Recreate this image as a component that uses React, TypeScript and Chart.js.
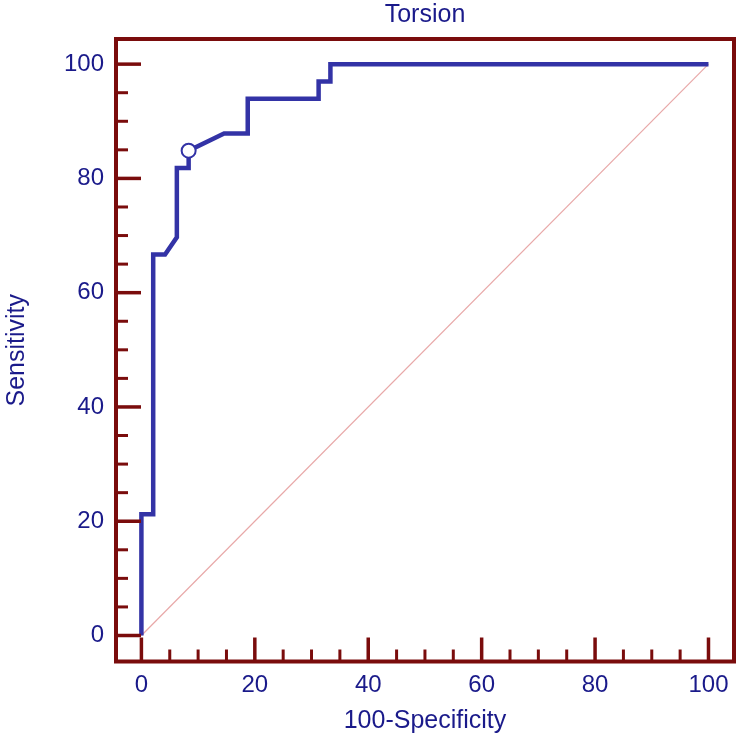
import React, { useEffect, useRef } from "react";
import { Chart, registerables } from "chart.js";

Chart.register(...registerables);

// ROC curve (100-Specificity vs Sensitivity)
const fpr = [0, 0, 2.08, 2.08, 4.17, 6.25, 6.25, 8.33, 8.33, 14.58, 18.75, 18.75, 31.25, 31.25, 33.33, 33.33, 100];
const tpr = [0, 21.21, 21.21, 66.67, 66.67, 69.7, 81.82, 81.82, 84.85, 87.88, 87.88, 93.94, 93.94, 96.97, 96.97, 100, 100];

// Reference diagonal
const refX = [0, 100];
const refY = [0, 100];

// Optimal criterion point
const critX = [8.33];
const critY = [84.85];

// Tick values
const xMajorTicks = [0, 20, 40, 60, 80, 100];
const xMinorTicks = [5, 10, 15, 25, 30, 35, 45, 50, 55, 65, 70, 75, 85, 90, 95];
const yMajorTicks = [0, 20, 40, 60, 80, 100];
const yMinorTicks = [5, 10, 15, 25, 30, 35, 45, 50, 55, 65, 70, 75, 85, 90, 95];

const chartTitle = "Torsion";
const xTitle = "100-Specificity";
const yTitle = "Sensitivity";

const FONT = '"Liberation Sans", Arial, Helvetica, sans-serif';
const TEXT = "#1a1a8a";
const FRAME = "#7a0c0c";
const CURVE = "#3333a6";
const DIAG = "#e8a8a8";

const framePlugin = {
  id: "frameTicks",
  afterDraw(chart: any) {
    const { ctx, chartArea: a, scales } = chart;
    const x = scales.x;
    const y = scales.y;
    ctx.save();
    ctx.strokeStyle = FRAME;
    ctx.lineCap = "butt";
    const drawX = (vals: number[], len: number, w: number) => {
      ctx.lineWidth = w;
      for (const v of vals) {
        const px = x.getPixelForValue(v);
        ctx.beginPath();
        ctx.moveTo(px, a.bottom);
        ctx.lineTo(px, a.bottom - len);
        ctx.stroke();
      }
    };
    const drawY = (vals: number[], len: number, w: number) => {
      ctx.lineWidth = w;
      for (const v of vals) {
        const py = y.getPixelForValue(v);
        ctx.beginPath();
        ctx.moveTo(a.left, py);
        ctx.lineTo(a.left + len, py);
        ctx.stroke();
      }
    };
    drawX(xMajorTicks, 24, 3.5);
    drawX(xMinorTicks, 12, 3);
    drawY(yMajorTicks, 25, 3.5);
    drawY(yMinorTicks, 12, 3);
    ctx.lineWidth = 4;
    ctx.strokeRect(a.left, a.top, a.right - a.left, a.bottom - a.top);

    ctx.fillStyle = TEXT;
    ctx.font = `25px ${FONT}`;
    ctx.textAlign = "center";
    ctx.textBaseline = "middle";
    ctx.fillText(chartTitle, (a.left + a.right) / 2, 15);
    ctx.restore();
  },
};

export default function App() {
  const ref = useRef<HTMLCanvasElement | null>(null);

  useEffect(() => {
    if (!ref.current) return;
    const chart = new Chart(ref.current, {
      type: "scatter",
      data: {
        datasets: [
          {
            label: "Criterion",
            data: critX.map((v, i) => ({ x: v, y: critY[i] })),
            showLine: false,
            pointRadius: 7,
            pointBackgroundColor: "#ffffff",
            pointBorderColor: CURVE,
            pointBorderWidth: 2,
            order: 0,
          },
          {
            label: "ROC",
            data: fpr.map((v, i) => ({ x: v, y: tpr[i] })),
            showLine: true,
            borderColor: CURVE,
            borderWidth: 4.5,
            pointRadius: 0,
            tension: 0,
            borderJoinStyle: "miter",
            order: 1,
          },
          {
            label: "Reference",
            data: refX.map((v, i) => ({ x: v, y: refY[i] })),
            showLine: true,
            borderColor: DIAG,
            borderWidth: 1.2,
            pointRadius: 0,
            order: 2,
          },
        ],
      },
      options: {
        animation: false,
        responsive: false,
        layout: { padding: { left: 0, right: 6.5, top: 39, bottom: 0 } },
        plugins: {
          legend: { display: false },
          tooltip: { enabled: false },
          title: { display: false },
        },
        scales: {
          x: {
            type: "linear",
            min: -4.48,
            max: 104.5,
            grid: { display: false, drawTicks: false },
            border: { display: false },
            afterBuildTicks: (s: any) => {
              s.ticks = xMajorTicks.map((v) => ({ value: v }));
            },
            afterFit: (s: any) => {
              s.height = 82.5;
            },
            ticks: {
              color: TEXT,
              font: { family: FONT, size: 24 },
              padding: 9,
              maxRotation: 0,
              autoSkip: false,
            },
            title: {
              display: true,
              text: xTitle,
              color: TEXT,
              font: { family: FONT, size: 25 },
              padding: { top: 0, bottom: 8 },
            },
          },
          y: {
            type: "linear",
            min: -4.55,
            max: 104.4,
            grid: { display: false, drawTicks: false },
            border: { display: false },
            afterBuildTicks: (s: any) => {
              s.ticks = yMajorTicks.map((v) => ({ value: v }));
            },
            afterFit: (s: any) => {
              s.width = 116;
            },
            ticks: {
              color: TEXT,
              font: { family: FONT, size: 24 },
              padding: 12,
              autoSkip: false,
            },
            title: {
              display: true,
              text: yTitle,
              color: TEXT,
              font: { family: FONT, size: 25 },
              padding: { top: 2, bottom: 0 },
            },
          },
        },
      },
      plugins: [framePlugin],
    });
    return () => chart.destroy();
  }, []);

  return (
    <div style={{ position: "fixed", left: 0, top: 0, width: 743, height: 744, background: "#ffffff" }}>
      <canvas ref={ref} width={743} height={744} style={{ width: 743, height: 744, display: "block" }} />
    </div>
  );
}
